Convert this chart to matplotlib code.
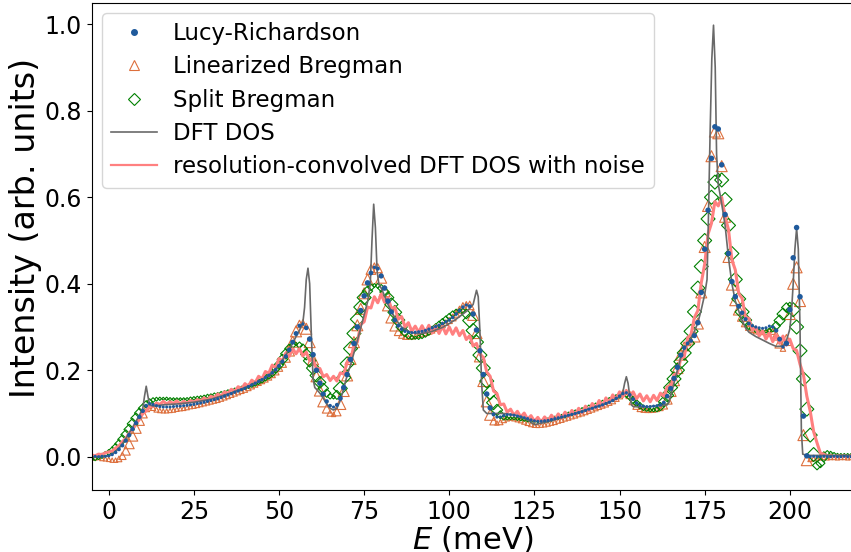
import numpy as np
import matplotlib
matplotlib.use("Agg")
import matplotlib.pyplot as plt
from matplotlib.lines import Line2D

# energy grid of the reconstructed spectra (meV), one point per meV from -5 to 218
energy = np.arange(-5, 219)

lucy = [
    0.000, 0.001, 0.000, 0.001, 0.001, 0.002, 0.005, 0.010, 0.017, 0.026,
    0.037, 0.050, 0.064, 0.078, 0.092, 0.106, 0.118, 0.123, 0.121, 0.118,
    0.116, 0.115, 0.115, 0.115, 0.116, 0.117, 0.117, 0.118, 0.119, 0.120,
    0.121, 0.123, 0.124, 0.126, 0.128, 0.130, 0.132, 0.134, 0.137, 0.140,
    0.143, 0.146, 0.149, 0.152, 0.155, 0.158, 0.162, 0.166, 0.170, 0.174,
    0.178, 0.183, 0.188, 0.194, 0.201, 0.210, 0.220, 0.232, 0.247, 0.265,
    0.285, 0.303, 0.307, 0.298, 0.272, 0.236, 0.200, 0.170, 0.145, 0.128,
    0.118, 0.115, 0.120, 0.135, 0.160, 0.190, 0.225, 0.262, 0.300, 0.338,
    0.372, 0.402, 0.425, 0.438, 0.435, 0.418, 0.390, 0.360, 0.335, 0.316,
    0.303, 0.295, 0.290, 0.288, 0.287, 0.288, 0.289, 0.290, 0.292, 0.295,
    0.298, 0.301, 0.304, 0.308, 0.312, 0.316, 0.322, 0.330, 0.338, 0.346,
    0.351, 0.348, 0.330, 0.293, 0.245, 0.190, 0.145, 0.113, 0.098, 0.092,
    0.092, 0.095, 0.097, 0.097, 0.096, 0.094, 0.092, 0.090, 0.088, 0.085,
    0.083, 0.082, 0.082, 0.083, 0.084, 0.086, 0.088, 0.090, 0.092, 0.094,
    0.096, 0.098, 0.100, 0.102, 0.104, 0.107, 0.110, 0.112, 0.115, 0.117,
    0.120, 0.123, 0.126, 0.130, 0.135, 0.140, 0.146, 0.148, 0.143, 0.133,
    0.124, 0.119, 0.117, 0.116, 0.116, 0.117, 0.118, 0.120, 0.125, 0.140,
    0.158, 0.181, 0.207, 0.235, 0.252, 0.262, 0.268, 0.280, 0.310, 0.380,
    0.480, 0.570, 0.690, 0.763, 0.758, 0.675, 0.560, 0.470, 0.405, 0.370,
    0.348, 0.333, 0.318, 0.308, 0.303, 0.300, 0.298, 0.297, 0.298, 0.302,
    0.300, 0.292, 0.272, 0.254, 0.262, 0.340, 0.460, 0.530, 0.370, 0.094,
    0.002, 0.000, 0.001, 0.000, 0.000, 0.001, 0.000, 0.000, 0.001, 0.000,
    0.000, 0.001, 0.000, 0.000,
]

lin_bregman = [
    -0.002, -0.003, -0.002, -0.004, -0.005, -0.006, -0.008, -0.008, -0.005, 0.002,
    0.014, 0.030, 0.048, 0.066, 0.084, 0.100, 0.112, 0.116, 0.113, 0.109,
    0.107, 0.106, 0.106, 0.107, 0.108, 0.110, 0.111, 0.112, 0.114, 0.116,
    0.117, 0.119, 0.121, 0.123, 0.125, 0.127, 0.129, 0.131, 0.134, 0.137,
    0.140, 0.143, 0.146, 0.149, 0.152, 0.155, 0.159, 0.163, 0.167, 0.171,
    0.175, 0.179, 0.184, 0.190, 0.197, 0.206, 0.216, 0.229, 0.245, 0.266,
    0.290, 0.307, 0.310, 0.296, 0.265, 0.225, 0.186, 0.153, 0.128, 0.111,
    0.101, 0.098, 0.104, 0.122, 0.152, 0.188, 0.226, 0.265, 0.304, 0.342,
    0.378, 0.410, 0.433, 0.443, 0.436, 0.414, 0.383, 0.350, 0.322, 0.302,
    0.289, 0.281, 0.277, 0.276, 0.277, 0.279, 0.281, 0.283, 0.286, 0.289,
    0.292, 0.296, 0.300, 0.305, 0.310, 0.315, 0.322, 0.331, 0.340, 0.349,
    0.354, 0.350, 0.328, 0.286, 0.232, 0.175, 0.128, 0.097, 0.082, 0.078,
    0.080, 0.085, 0.088, 0.089, 0.088, 0.086, 0.084, 0.081, 0.078, 0.075,
    0.073, 0.072, 0.073, 0.074, 0.076, 0.078, 0.080, 0.083, 0.085, 0.088,
    0.090, 0.093, 0.095, 0.098, 0.100, 0.103, 0.106, 0.109, 0.112, 0.115,
    0.118, 0.121, 0.125, 0.129, 0.135, 0.141, 0.148, 0.150, 0.143, 0.130,
    0.118, 0.111, 0.108, 0.107, 0.107, 0.108, 0.110, 0.113, 0.119, 0.133,
    0.152, 0.177, 0.205, 0.236, 0.255, 0.264, 0.268, 0.278, 0.308, 0.380,
    0.485, 0.580, 0.695, 0.752, 0.748, 0.672, 0.555, 0.462, 0.398, 0.362,
    0.340, 0.324, 0.310, 0.300, 0.294, 0.290, 0.288, 0.287, 0.288, 0.292,
    0.290, 0.280, 0.262, 0.250, 0.270, 0.330, 0.400, 0.438, 0.360, 0.050,
    -0.008, -0.006, -0.004, -0.003, -0.003, -0.002, -0.003, -0.002, -0.002, -0.003,
    -0.002, -0.002, -0.003, -0.002,
]

split_bregman = [
    -0.006, -0.004, -0.001, 0.002, 0.006, 0.010, 0.015, 0.022, 0.030, 0.040,
    0.051, 0.063, 0.076, 0.089, 0.101, 0.112, 0.121, 0.127, 0.131, 0.133,
    0.134, 0.134, 0.134, 0.133, 0.133, 0.133, 0.133, 0.133, 0.133, 0.134,
    0.135, 0.136, 0.137, 0.138, 0.140, 0.141, 0.143, 0.144, 0.146, 0.148,
    0.150, 0.152, 0.154, 0.156, 0.158, 0.161, 0.163, 0.166, 0.169, 0.173,
    0.177, 0.182, 0.187, 0.194, 0.203, 0.213, 0.225, 0.238, 0.250, 0.258,
    0.261, 0.258, 0.250, 0.237, 0.222, 0.205, 0.188, 0.172, 0.158, 0.147,
    0.140, 0.138, 0.143, 0.158, 0.183, 0.215, 0.250, 0.285, 0.318, 0.346,
    0.368, 0.383, 0.392, 0.396, 0.395, 0.390, 0.381, 0.368, 0.352, 0.334,
    0.316, 0.300, 0.288, 0.280, 0.276, 0.275, 0.276, 0.279, 0.283, 0.288,
    0.294, 0.300, 0.306, 0.312, 0.318, 0.324, 0.330, 0.335, 0.338, 0.337,
    0.330, 0.315, 0.292, 0.265, 0.235, 0.205, 0.175, 0.148, 0.125, 0.108,
    0.097, 0.091, 0.089, 0.089, 0.089, 0.088, 0.087, 0.086, 0.085, 0.083,
    0.082, 0.082, 0.082, 0.083, 0.085, 0.087, 0.089, 0.091, 0.093, 0.095,
    0.098, 0.100, 0.103, 0.105, 0.108, 0.111, 0.114, 0.117, 0.119, 0.122,
    0.125, 0.128, 0.131, 0.135, 0.138, 0.141, 0.143, 0.142, 0.138, 0.131,
    0.124, 0.118, 0.113, 0.110, 0.108, 0.108, 0.110, 0.116, 0.127, 0.142,
    0.160, 0.180, 0.200, 0.220, 0.240, 0.262, 0.290, 0.335, 0.390, 0.440,
    0.500, 0.550, 0.600, 0.635, 0.650, 0.640, 0.595, 0.535, 0.470, 0.410,
    0.365, 0.335, 0.316, 0.304, 0.297, 0.293, 0.291, 0.290, 0.290, 0.292,
    0.296, 0.303, 0.315, 0.330, 0.345, 0.352, 0.340, 0.300, 0.245, 0.180,
    0.110, 0.050, 0.005, -0.020, -0.015, 0.000, 0.008, 0.008, 0.005, 0.004,
    0.004, 0.004, 0.004, 0.004,
]

# resolution-convolved DFT DOS with noise, same energy grid
convolved = [
    0.004, 0.002, 0.006, 0.005, 0.009, 0.011, 0.013, 0.020, 0.025, 0.035,
    0.042, 0.055, 0.062, 0.077, 0.086, 0.100, 0.106, 0.117, 0.116, 0.124,
    0.121, 0.128, 0.122, 0.127, 0.123, 0.129, 0.122, 0.128, 0.124, 0.130,
    0.126, 0.132, 0.129, 0.136, 0.131, 0.140, 0.136, 0.145, 0.140, 0.150,
    0.146, 0.156, 0.151, 0.162, 0.157, 0.169, 0.163, 0.177, 0.171, 0.186,
    0.180, 0.197, 0.193, 0.212, 0.206, 0.227, 0.222, 0.240, 0.232, 0.250,
    0.238, 0.250, 0.233, 0.242, 0.222, 0.226, 0.203, 0.204, 0.185, 0.190,
    0.176, 0.186, 0.175, 0.194, 0.191, 0.218, 0.222, 0.258, 0.265, 0.306,
    0.312, 0.346, 0.344, 0.370, 0.356, 0.376, 0.357, 0.368, 0.342, 0.346,
    0.318, 0.324, 0.300, 0.310, 0.290, 0.302, 0.288, 0.303, 0.287, 0.304,
    0.286, 0.303, 0.285, 0.302, 0.284, 0.300, 0.283, 0.298, 0.280, 0.292,
    0.271, 0.280, 0.256, 0.262, 0.236, 0.230, 0.196, 0.186, 0.152, 0.146,
    0.120, 0.122, 0.103, 0.110, 0.096, 0.105, 0.092, 0.101, 0.087, 0.095,
    0.082, 0.091, 0.080, 0.092, 0.083, 0.096, 0.086, 0.099, 0.089, 0.103,
    0.093, 0.107, 0.097, 0.112, 0.101, 0.117, 0.106, 0.123, 0.112, 0.130,
    0.117, 0.136, 0.125, 0.143, 0.133, 0.150, 0.139, 0.153, 0.140, 0.150,
    0.134, 0.145, 0.129, 0.141, 0.127, 0.142, 0.130, 0.147, 0.140, 0.162,
    0.160, 0.190, 0.193, 0.228, 0.231, 0.275, 0.283, 0.322, 0.338, 0.402,
    0.445, 0.515, 0.540, 0.590, 0.580, 0.600, 0.555, 0.525, 0.455, 0.432,
    0.378, 0.366, 0.322, 0.320, 0.292, 0.300, 0.279, 0.292, 0.272, 0.286,
    0.266, 0.282, 0.262, 0.279, 0.258, 0.272, 0.250, 0.246, 0.214, 0.190,
    0.140, 0.105, 0.058, 0.032, 0.008, 0.006, 0.001, 0.003, 0.000, 0.002,
    0.001, 0.002, 0.000, 0.002,
]

# DFT DOS on its own (finer near the sharp peaks) energy grid
dft_energy = [
    -5, -2, 0, 1, 2, 3, 4, 5, 6, 7, 8, 9, 10, 10.5, 11, 11.5, 12, 13, 14, 16,
    18, 20, 25, 30, 35, 40, 43, 46, 48, 50, 52, 54, 55, 56, 57, 57.5, 58, 58.5,
    59, 59.5, 60, 60.5, 61, 62, 63, 64, 65, 66, 67, 68, 69, 70, 71, 72, 73, 74,
    75, 76, 76.8, 77.3, 77.8, 78.3, 78.8, 79.3, 80, 81, 82, 83, 84, 85, 86, 88,
    90, 92, 95, 98, 100, 102, 104, 105, 106, 107, 107.5, 108, 108.5, 109, 109.5,
    110, 111, 112, 114, 116, 118, 120, 122, 124, 125, 126, 128, 130, 135, 140,
    145, 148, 150, 151, 151.5, 152, 152.5, 153, 153.5, 154, 156, 158, 160, 162,
    164, 164.5, 165, 166, 167, 168, 169, 170, 171, 172, 173, 174, 175, 175.7,
    176.1, 176.6, 177.1, 177.6, 178.1, 178.5, 179, 180, 181, 182, 183, 184, 185,
    186, 187, 188, 190, 192, 194, 196, 198, 199, 200, 200.5, 201, 201.5, 202,
    202.5, 203, 203.4, 203.8, 205, 210, 218,
]
dft_dos = [
    0.0, 0.0, 0.002, 0.006, 0.012, 0.020, 0.030, 0.042, 0.055, 0.068, 0.082,
    0.096, 0.112, 0.140, 0.163, 0.140, 0.120, 0.117, 0.118, 0.120,
    0.121, 0.122, 0.126, 0.133, 0.145, 0.160, 0.170, 0.183, 0.195, 0.212, 0.235,
    0.262, 0.278, 0.292, 0.310, 0.345, 0.410, 0.436,
    0.400, 0.280, 0.180, 0.160, 0.156, 0.147, 0.135, 0.122, 0.112, 0.108, 0.112,
    0.130, 0.158, 0.188, 0.212, 0.240, 0.268, 0.298,
    0.328, 0.358, 0.400, 0.500, 0.584, 0.530, 0.430, 0.400, 0.390, 0.372, 0.352,
    0.336, 0.322, 0.310, 0.300, 0.290,
    0.285, 0.285, 0.290, 0.299, 0.308, 0.318, 0.330, 0.336, 0.343, 0.352, 0.368,
    0.385, 0.370, 0.290, 0.170,
    0.108, 0.100, 0.100, 0.100, 0.100, 0.098, 0.095, 0.090, 0.080, 0.074, 0.076,
    0.079, 0.083, 0.095, 0.108,
    0.120, 0.130, 0.138, 0.150, 0.170, 0.185, 0.170, 0.140, 0.120, 0.116, 0.115,
    0.115, 0.117, 0.118,
    0.120, 0.126, 0.140, 0.170, 0.200, 0.230, 0.250, 0.262, 0.275, 0.290, 0.310,
    0.340, 0.375, 0.410,
    0.550, 0.750, 0.920, 0.998, 0.900, 0.700, 0.630, 0.585, 0.535, 0.460, 0.400,
    0.360, 0.337,
    0.315, 0.298, 0.288, 0.278, 0.270, 0.262, 0.255, 0.256, 0.268, 0.295, 0.335,
    0.400, 0.480, 0.528,
    0.480, 0.300, 0.060, 0.006, 0.003, 0.003, 0.003,
]


def marker_sizes(values, base_px, gain, cap_px, scale=1.0):
    # markers grow where the spectrum is steep
    slope = np.abs(np.gradient(np.asarray(values, dtype=float)))
    width_px = np.minimum(base_px + gain * slope, cap_px)
    return (width_px * 0.72 * scale) ** 2


c_lucy = "#1f5a9c"
c_lin = "#dd6f3c"
c_split = "green"
c_dft = "dimgray"
c_conv = "#ff8080"

fig = plt.figure(figsize=(8.51, 5.52), dpi=100)
ax = fig.add_axes([0.1078, 0.1123, 0.8943, 0.8828])

ax.scatter(energy, lin_bregman, s=marker_sizes(lin_bregman, 4.0, 350, 11.0),
           marker="^", facecolors="none", edgecolors=c_lin, linewidths=0.8, zorder=2)
ax.scatter(energy, split_bregman, s=marker_sizes(split_bregman, 3.0, 600, 14.0, 1 / 1.414),
           marker="D", facecolors="none", edgecolors=c_split, linewidths=0.8, zorder=2.1)
ax.plot(energy, convolved, color=c_conv, lw=2.2, zorder=2.2)
ax.plot(dft_energy, dft_dos, color=c_dft, lw=1.2, zorder=2.3)
ax.scatter(energy, lucy, s=marker_sizes(lucy, 3.0, 100, 5.5),
           marker="o", color=c_lucy, linewidths=0, zorder=2.5)

handles = [
    Line2D([], [], ls="none", marker="o", ms=4, color=c_lucy),
    Line2D([], [], ls="none", marker="^", ms=7.5, mfc="none", mec=c_lin, mew=0.8),
    Line2D([], [], ls="none", marker="D", ms=6.5, mfc="none", mec=c_split, mew=0.8),
    Line2D([], [], color=c_dft, lw=1.2),
    Line2D([], [], color=c_conv, lw=1.6),
]
labels = ["Lucy-Richardson", "Linearized Bregman", "Split Bregman", "DFT DOS",
          "resolution-convolved DFT DOS with noise"]
ax.legend(handles, labels, loc="upper left", fontsize=16.5, labelspacing=0.45,
          borderaxespad=0.45, handletextpad=0.7)

ax.set_xlim(-5.0, 218.5)
ax.set_ylim(-0.077, 1.050)
ax.set_xticks([0, 25, 50, 75, 100, 125, 150, 175, 200])
ax.set_yticks([0.0, 0.2, 0.4, 0.6, 0.8, 1.0])
ax.tick_params(labelsize=17)
ax.set_xlabel("$E$ (meV)", fontsize=22, labelpad=0)
ax.set_ylabel("Intensity (arb. units)", fontsize=24)
ax.yaxis.set_label_coords(-0.066, 0.537)

fig.savefig("out.png", dpi=100)
